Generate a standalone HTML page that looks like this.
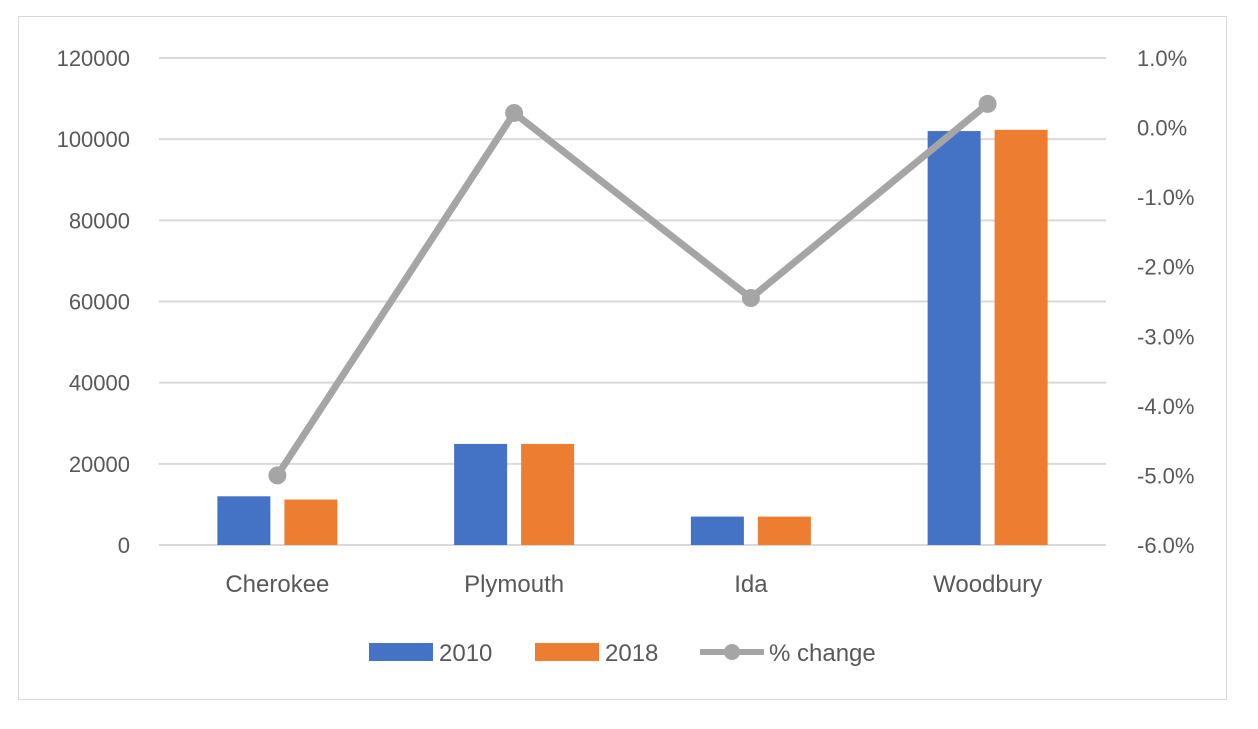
<!DOCTYPE html>
<html><head><meta charset="utf-8"><style>
body{margin:0;background:#fff;}
svg text{font-family:"Liberation Sans",sans-serif;fill:#595959;}
</style></head><body>
<svg width="1258" height="724">
<rect x="18.5" y="16.5" width="1208" height="683" fill="#fff" stroke="#d9d9d9"/>
<g id="grid"></g><g id="bars"></g><g id="line"></g><g id="axes"></g>
<g>
<rect x="369" y="643" width="64" height="18" fill="#4472c4"/>
<text x="439" y="661" font-size="24">2010</text>
<rect x="535" y="643" width="64" height="18" fill="#ed7d31"/>
<text x="605" y="661" font-size="24">2018</text>
<line x1="700" y1="652" x2="764" y2="652" stroke="#a5a5a5" stroke-width="6"/>
<circle cx="732" cy="652" r="8" fill="#a5a5a5"/>
<text x="769" y="661" font-size="24">% change</text>
</g>
</svg>
<script>
const categories=["Cherokee","Plymouth","Ida","Woodbury"];
const values2010=[12000,24900,7000,102000];
const values2018=[11200,24900,7000,102300];
const pctChange=[-5.0,0.21,-2.45,0.34];
const leftTicks=[0,20000,40000,60000,80000,100000,120000];
const rightTicks=[-6,-5,-4,-3,-2,-1,0,1];
const NS="http://www.w3.org/2000/svg";
const X0=159,X1=1106,Y0=545,Y1=58;
const yL=v=>Y0-(v/120000)*(Y0-Y1);
const yR=v=>Y0-((v+6)/7)*(Y0-Y1);
const bw=(X1-X0)/categories.length;
const xc=i=>X0+bw*(i+0.5);
function mk(tag,attrs,parent){const e=document.createElementNS(NS,tag);for(const k in attrs)e.setAttribute(k,attrs[k]);document.getElementById(parent).appendChild(e);return e;}
leftTicks.forEach(t=>{
 const l=mk('line',{x1:X0,x2:X1,y1:yL(t),y2:yL(t),stroke:'#d9d9d9','stroke-width':2},'grid');
 
 
 const tx=mk('text',{x:130,y:yL(t)+8,'font-size':22,'text-anchor':'end'},'axes');tx.textContent=t;
 
 
});
rightTicks.forEach(t=>{
 const tx=mk('text',{x:1137,y:yR(t)+8,'font-size':22},'axes');tx.textContent=t.toFixed(1)+'%';
 
 
});
categories.forEach((c,i)=>{
 const b1=mk('rect',{x:xc(i)-60,y:yL(values2010[i]),width:53,height:Y0-yL(values2010[i]),fill:'#4472c4'},'bars');
 
 
 const b2=mk('rect',{x:xc(i)+7,y:yL(values2018[i]),width:53,height:Y0-yL(values2018[i]),fill:'#ed7d31'},'bars');
 
 
 const tx=mk('text',{x:xc(i),y:592,'font-size':24,'text-anchor':'middle'},'axes');tx.textContent=c;
 
 
});
const pl=mk('polyline',{points:pctChange.map((v,i)=>xc(i)+','+yR(v)).join(' '),fill:'none',stroke:'#a5a5a5','stroke-width':7,'stroke-linejoin':'round'},'line');


pctChange.forEach((v,i)=>{
 const c=mk('circle',{cx:xc(i),cy:yR(v),r:9,fill:'#a5a5a5'},'line');
 
 
});
</script>
</body></html>
